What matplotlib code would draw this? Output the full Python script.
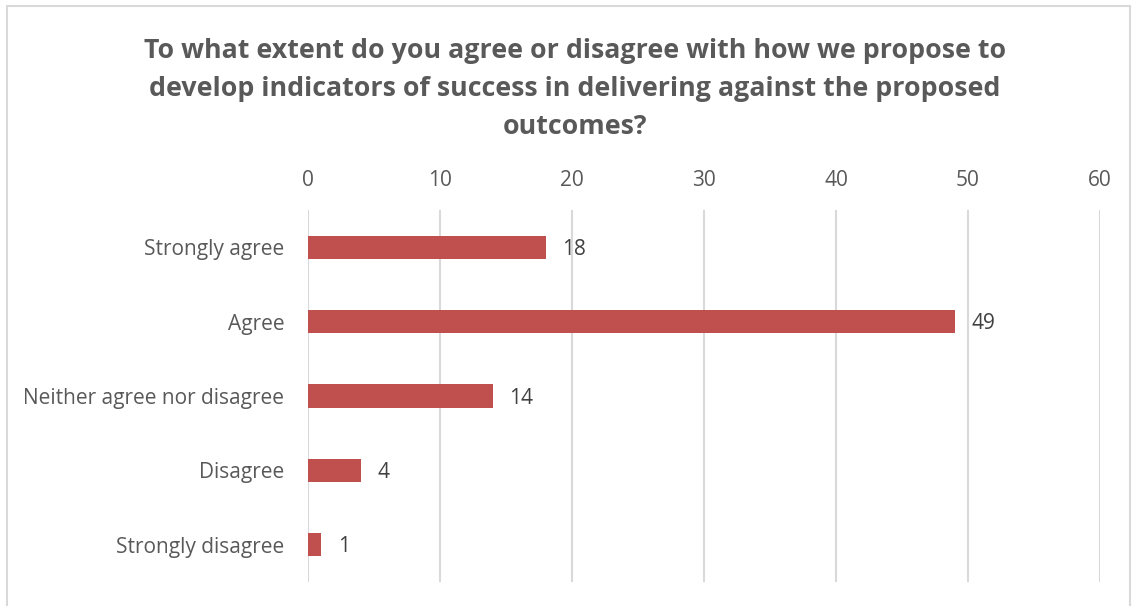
import matplotlib.pyplot as plt
from matplotlib.patches import Rectangle

categories = ['Strongly agree', 'Agree', 'Neither agree nor disagree', 'Disagree', 'Strongly disagree']
counts = [18, 49, 14, 4, 1]
xticks = [0, 10, 20, 30, 40, 50, 60]

title = ('To what extent do you agree or disagree with how we propose to\n'
         'develop indicators of success in delivering against the proposed\n'
         'outcomes?')

plt.rcParams['font.family'] = ['Open Sans', 'DejaVu Sans']
txt = '#595959'

fig = plt.figure(figsize=(11.32, 6.06), dpi=100)
fig.patch.set_facecolor('white')
# chart border
fig.add_artist(Rectangle((7 / 1132, -0.02), 1123 / 1132, 1 - 6 / 606 + 0.02,
                         transform=fig.transFigure, fill=False,
                         edgecolor='#D9D9D9', linewidth=1.5))

ax = fig.add_axes([308 / 1132, 1 - 582 / 606, 792 / 1132, 372 / 606])
y = list(range(len(categories)))
ax.barh(y, counts, height=0.31, color='#C0504D', zorder=3)
ax.set_ylim(len(categories) - 0.5, -0.5)
ax.set_xlim(0, 60)
ax.set_xticks(xticks)
ax.xaxis.tick_top()
ax.set_yticks(y)
ax.set_yticklabels(categories)
ax.tick_params(axis='both', length=0, colors=txt, labelsize=15)
ax.tick_params(axis='x', pad=14)
ax.tick_params(axis='y', pad=17)
ax.grid(axis='x', color='#D9D9D9', linewidth=1.5, zorder=0)
for s in ax.spines.values():
    s.set_visible(False)

for yi, v in zip(y, counts):
    ax.annotate(str(v), (v, yi), xytext=(12, -1.5), textcoords='offset points',
                va='center', ha='left', fontsize=15, color='#404040')

fig.text(575 / 1132, 1 - 89 / 606, title, ha='center', va='center',
         fontsize=19.3, fontweight='bold', color=txt, linespacing=1.6)

fig.savefig('out.png', dpi=100)
